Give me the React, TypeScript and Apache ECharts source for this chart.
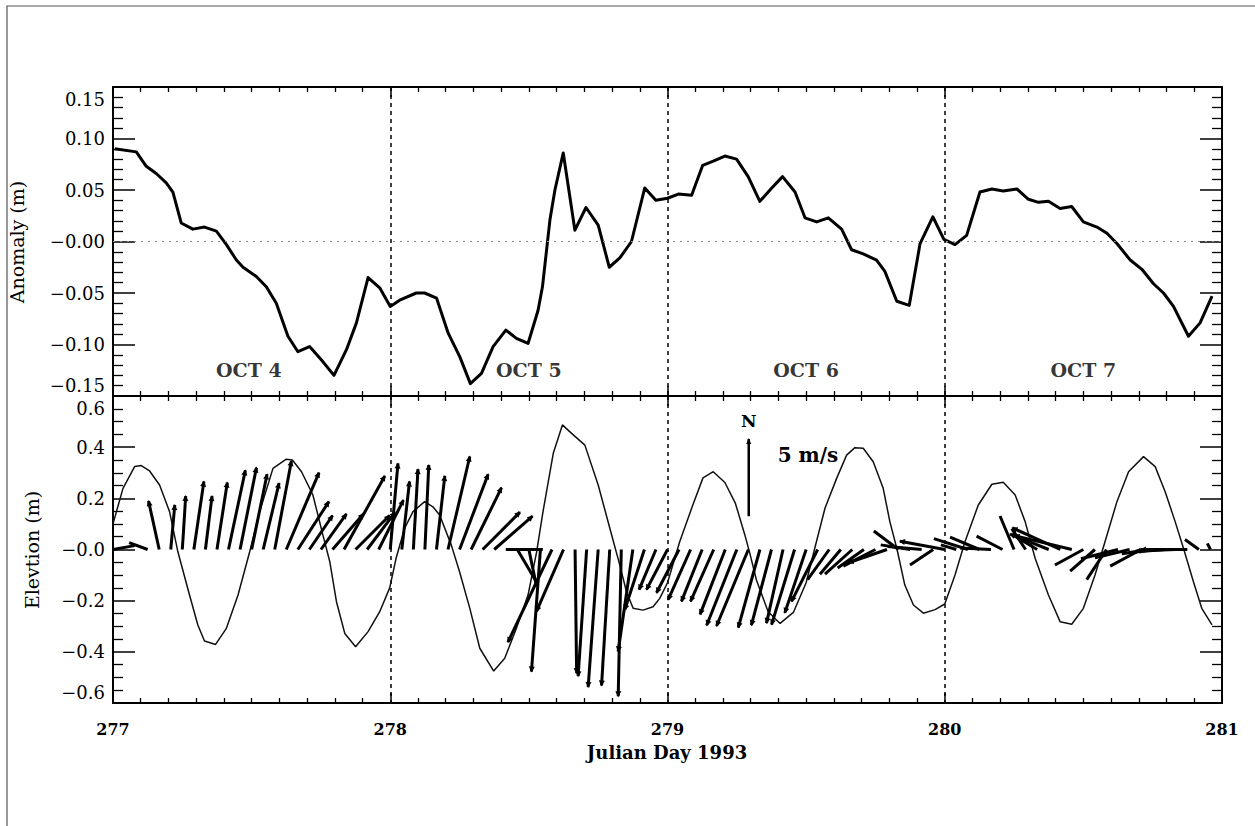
import React, { useEffect, useRef } from "react";
import * as echarts from "echarts";

// Sea level anomaly (m), top panel
const anomalyDay = [
  277.006, 277.084, 277.12, 277.156, 277.192, 277.216, 277.246, 277.288, 277.33, 277.373,
  277.409, 277.445, 277.469, 277.517, 277.553, 277.589, 277.631, 277.667, 277.709, 277.752,
  277.797, 277.842, 277.878, 277.92, 277.962, 278.0, 278.034, 278.094, 278.124, 278.167,
  278.209, 278.251, 278.289, 278.329, 278.371, 278.417, 278.455, 278.497, 278.533, 278.549,
  278.576, 278.594, 278.624, 278.666, 278.706, 278.75, 278.79, 278.828, 278.87, 278.918,
  278.958, 279.0, 279.039, 279.087, 279.127, 279.165, 279.207, 279.249, 279.291, 279.333,
  279.376, 279.415, 279.46, 279.496, 279.538, 279.58, 279.628, 279.664, 279.706, 279.754,
  279.784, 279.827, 279.872, 279.911, 279.957, 279.997, 280.037, 280.079, 280.127, 280.17,
  280.211, 280.26, 280.302, 280.338, 280.374, 280.416, 280.458, 280.5, 280.549, 280.585,
  280.621, 280.669, 280.711, 280.753, 280.789, 280.825, 280.879, 280.921, 280.964,
];
const anomalyValue = [
  0.09, 0.087, 0.073, 0.066, 0.057, 0.048, 0.018, 0.012, 0.014, 0.01,
  -0.003, -0.018, -0.025, -0.034, -0.044, -0.06, -0.092, -0.107, -0.102, -0.115,
  -0.13, -0.105, -0.079, -0.035, -0.045, -0.063, -0.057, -0.05, -0.05, -0.055,
  -0.089, -0.112, -0.138, -0.128, -0.102, -0.086, -0.094, -0.099, -0.067, -0.044,
  0.021, 0.05, 0.086, 0.011, 0.033, 0.016, -0.025, -0.016, 0.0, 0.052,
  0.04, 0.042, 0.046, 0.045, 0.074, 0.078, 0.083, 0.08, 0.063, 0.039,
  0.052, 0.063, 0.048, 0.023, 0.019, 0.023, 0.012, -0.008, -0.012, -0.018,
  -0.029, -0.058, -0.062, -0.002, 0.024, 0.002, -0.003, 0.006, 0.048, 0.051,
  0.049, 0.051, 0.041, 0.038, 0.039, 0.032, 0.034, 0.019, 0.014, 0.008,
  -0.002, -0.018, -0.027, -0.041, -0.05, -0.063, -0.092, -0.079, -0.053,
];

// Tidal elevation (m), bottom panel
const elevDay = [
  277.0, 277.036, 277.078, 277.102, 277.132, 277.168, 277.204, 277.234, 277.276, 277.306,
  277.33, 277.37, 277.409, 277.451, 277.493, 277.529, 277.577, 277.625, 277.647, 277.68,
  277.721, 277.757, 277.782, 277.806, 277.836, 277.875, 277.92, 277.962, 277.998, 278.022,
  278.052, 278.082, 278.124, 278.154, 278.178, 278.22, 278.25, 278.287, 278.323, 278.373,
  278.413, 278.455, 278.497, 278.528, 278.551, 278.588, 278.621, 278.654, 278.702, 278.75,
  278.792, 278.828, 278.852, 278.876, 278.912, 278.948, 278.972, 279.0, 279.044, 279.09,
  279.128, 279.165, 279.207, 279.245, 279.279, 279.297, 279.321, 279.363, 279.406, 279.454,
  279.5, 279.53, 279.568, 279.61, 279.646, 279.676, 279.706, 279.742, 279.778, 279.802,
  279.827, 279.856, 279.887, 279.923, 279.965, 280.0, 280.037, 280.073, 280.121, 280.17,
  280.211, 280.254, 280.29, 280.326, 280.374, 280.416, 280.458, 280.5, 280.542, 280.578,
  280.621, 280.663, 280.717, 280.759, 280.795, 280.831, 280.861, 280.897, 280.927, 280.964,
];
const elevValue = [
  0.1, 0.239, 0.324, 0.328, 0.307, 0.252, 0.148, -0.009, -0.178, -0.295,
  -0.358, -0.371, -0.308, -0.178, -0.009, 0.148, 0.317, 0.353, 0.35, 0.304,
  0.213, 0.057, -0.048, -0.204, -0.328, -0.38, -0.321, -0.243, -0.15, -0.03,
  0.083, 0.148, 0.187, 0.167, 0.135, 0.018, -0.087, -0.23, -0.386, -0.475,
  -0.425, -0.308, -0.178, -0.009, 0.148, 0.376, 0.487, 0.454, 0.408, 0.252,
  0.083, -0.061, -0.165, -0.23, -0.237, -0.224, -0.191, -0.13, 0.03, 0.17,
  0.28, 0.304, 0.262, 0.18, 0.057, -0.015, -0.12, -0.243, -0.289, -0.246,
  -0.13, 0.0, 0.161, 0.278, 0.369, 0.398, 0.396, 0.343, 0.239, 0.109,
  0.005, -0.139, -0.217, -0.249, -0.235, -0.213, -0.1, 0.03, 0.174, 0.255,
  0.263, 0.213, 0.109, -0.034, -0.178, -0.282, -0.292, -0.23, -0.1, 0.03,
  0.187, 0.304, 0.363, 0.324, 0.226, 0.109, 0.005, -0.126, -0.23, -0.295,
];

// Hourly wind components (m/s), east (u) and north (v), starting at day 277.0
const windStartDay = 277.0;
const windStepDay = 1 / 24;
const windU = [
  1.4, 0, 0, -1.2, -0.69, 0.26, 0.22, 0.65, 0.43, 0.67,
  1.09, 1.06, 1.0, 1.03, 1.08, 2.12, 2.01, 1.5, 1.65, 2.0,
  2.64, 2.2, 1.8, 1.6, 0.5, 0.5, 0.3, 0.25, 0.54, 1.41,
  1.85, 1.97, 2.41, 2.48, 2.4, 1.3, 0.5, -0.58, -2.85, -1.75,
  0.1, -0.55, -0.65, -0.53, -0.2, -0.95, -1.27, -1.09, -1.36, -1.46,
  -1.45, -1.34, -1.5, -1.63, -1.95, -2.06, -1.4, -1.3, -1.07, -1.49,
  -1.38, -1.69, -1.4, -1.35, -1.77, -1.7, -2.08, -2.5, -1.6, -1.9,
  -2.2, -1.5, -2.9, -1.0, -2.2, -1.9, -2.0, -1.68, -0.91, -0.9,
  -1.5, -2.5, -3.1, -3.7, -1.84, -1.6, -1.28, -2.4, -2.24, -2.0,
  -2.0, -2.3, -2.6, -3.0, -0.9, -0.2,
];
const windV = [
  0.25, 0, 0, 0.45, 3.14, 2.88, 3.46, 4.4, 3.46, 4.33,
  5.13, 5.3, 4.87, 4.29, 5.73, 4.98, 3.1, 2.2, 2.3, 2.3,
  4.76, 2.2, 2.4, 3.2, 5.57, 4.4, 5.2, 5.47, 4.76, 6.02,
  4.87, 4.0, 2.42, 2.16, 0, -2.2, -2.4, -7.9, -6.0, -4.0,
  -8.0, -8.2, -8.9, -8.8, -9.5, -6.6, -3.9, -2.6, -2.6, -2.8,
  -3.25, -3.36, -3.36, -4.2, -4.9, -4.95, -5.05, -4.9, -4.76, -4.86,
  -4.1, -3.36, -1.95, -1.6, -1.6, -1.2, -1.08, -0.86, 1.2, 0.3,
  0.2, -1.0, 0.54, 0.3, 0.7, 0.8, 0.1, 0.87, 2.17, 1.35,
  0.9, 1.0, 1.4, 0.9, -1.0, -1.4, -1.95, -0.6, -0.54, -1.08,
  -0.28, -0.2, -0.1, 0.0, 0.65, 0.4,
];

// Day-of-month captions in the top panel
const dayLabels = ["OCT 4", "OCT 5", "OCT 6", "OCT 7"];
const dayLabelDay = [277.49, 278.5, 279.5, 280.5];
const dayLabelLevel = -0.125;

// Wind scale bar: 5 m/s northward, drawn at this day / elevation
const scaleDay = 279.293;
const scaleBase = 0.13;
const scaleSpeed = 5;

// Elevation metres drawn per 1 m/s of wind (sets the stick length)
const METERS_PER_MS = 0.0604;

const SERIF = "'DejaVu Serif', 'Liberation Serif', serif";

function arrowHead(tx: number, ty: number, bx: number, by: number, h: number, w: number) {
  const len = Math.hypot(tx - bx, ty - by) || 1;
  const ux = (tx - bx) / len;
  const uy = (ty - by) / len;
  return {
    type: "polygon",
    shape: {
      points: [
        [tx + ux, ty + uy],
        [tx - ux * h - uy * w, ty - uy * h + ux * w],
        [tx - ux * h + uy * w, ty - uy * h - ux * w],
      ],
    },
    style: { fill: "#000" },
  };
}

function stickItem(_params: any, api: any) {
  const t = api.value(0);
  const u = api.value(1);
  const v = api.value(2);
  const base = api.coord([t, 0]);
  const s = api.size([0, METERS_PER_MS])[1];
  const tx = base[0] + u * s;
  const ty = base[1] - v * s;
  const children: any[] = [];
  const len = Math.hypot(tx - base[0], ty - base[1]);
  if (len < 0.5) return { type: "group", children };
  children.push({
    type: "line",
    shape: { x1: base[0], y1: base[1], x2: tx, y2: ty },
    style: { stroke: "#000", lineWidth: 3 },
  });
  if (len > 40) children.push(arrowHead(tx, ty, base[0], base[1], 5, 3));
  return { type: "group", children };
}

function scaleItem(_params: any, api: any) {
  const t = api.value(0);
  const y0 = api.value(1);
  const speed = api.value(2);
  const base = api.coord([t, y0]);
  const s = api.size([0, METERS_PER_MS])[1];
  const tx = base[0];
  const ty = base[1] - speed * s;
  return {
    type: "group",
    children: [
      {
        type: "line",
        shape: { x1: base[0], y1: base[1], x2: tx, y2: ty },
        style: { stroke: "#000", lineWidth: 2.5 },
      },
      arrowHead(tx, ty, base[0], base[1], 5, 2.5),
      {
        type: "text",
        style: {
          text: "N",
          x: tx,
          y: ty - 18,
          align: "center",
          verticalAlign: "middle",
          fill: "#000",
          fontFamily: SERIF,
          fontWeight: "bold",
          fontSize: 17,
        },
      },
      {
        type: "text",
        style: {
          text: speed + " m/s",
          x: tx + 29,
          y: ty + 16,
          align: "left",
          verticalAlign: "middle",
          fill: "#000",
          fontFamily: SERIF,
          fontWeight: "bold",
          fontSize: 20,
        },
      },
    ],
  };
}

function fmtSigned(v: number, digits: number) {
  const r = Number(v.toFixed(digits));
  if (r === 0) return "\u2212" + (0).toFixed(digits);
  return r < 0 ? "\u2212" + (-r).toFixed(digits) : r.toFixed(digits);
}

function yLabel(min: number, max: number, digits: number) {
  return (v: number) => {
    const s = fmtSigned(v, digits);
    if (Math.abs(v - max) < 1e-9) return "{hi|" + s + "}";
    if (Math.abs(v - min) < 1e-9) return "{lo|" + s + "}";
    return s;
  };
}

// End labels sit a little inside the panel, as in the original plot
const labelRich = {
  hi: { fontFamily: SERIF, fontSize: 18, lineHeight: 18, color: "#000", padding: [24, 0, 0, 0] },
  lo: { fontFamily: SERIF, fontSize: 18, lineHeight: 18, color: "#000", padding: [0, 0, 22, 0] },
};

function xAxisCfg(grid: number, position: string, labels: boolean, gridLines: boolean) {
  return {
    type: "value",
    gridIndex: grid,
    position,
    min: 277,
    max: 281,
    interval: 1,
    axisLine: { show: true, onZero: false, lineStyle: { color: "#000", width: 2 } },
    axisTick: { show: true, inside: true, length: 10, lineStyle: { color: "#000", width: 1.5 } },
    minorTick: { show: true, splitNumber: 10, length: 5, lineStyle: { color: "#000", width: 1.3 } },
    splitLine: {
      show: gridLines,
      lineStyle: { color: "#000", width: 1.5, type: [4, 4] },
    },
    axisLabel: {
      show: labels,
      margin: 18,
      color: "#000",
      fontFamily: SERIF,
      fontWeight: "bold",
      fontSize: 16,
      formatter: (v: number) => String(v),
    },
  };
}

function yAxisCfg(
  grid: number,
  position: string,
  min: number,
  max: number,
  interval: number,
  minorSplit: number,
  digits: number,
  labels: boolean
) {
  return {
    type: "value",
    gridIndex: grid,
    position,
    min,
    max,
    interval,
    axisLine: { show: true, onZero: false, lineStyle: { color: "#000", width: 2 } },
    axisTick: { show: true, inside: true, length: 22, lineStyle: { color: "#000", width: 1.5 } },
    minorTick: { show: true, splitNumber: minorSplit, length: 10, lineStyle: { color: "#000", width: 1.3 } },
    splitLine: { show: false },
    axisLabel: {
      show: labels,
      margin: 8,
      color: "#000",
      fontFamily: SERIF,
      fontSize: 18,
      formatter: yLabel(min, max, digits),
      rich: labelRich,
    },
  };
}

export default function App() {
  const ref = useRef<HTMLDivElement>(null);

  useEffect(() => {
    if (!ref.current) return;
    const chart = echarts.init(ref.current, null, { renderer: "svg" });

    const anomalyData = anomalyDay.map((d, i) => [d, anomalyValue[i]]);
    const elevData = elevDay.map((d, i) => [d, elevValue[i]]);
    const windData = windU.map((u, i) => [windStartDay + i * windStepDay, u, windV[i]]);
    const dayLabelData = dayLabels.map((name, i) => ({ name, value: [dayLabelDay[i], dayLabelLevel] }));

    chart.setOption({
      animation: false,
      backgroundColor: "#fff",
      grid: [
        { left: 113, top: 87, width: 1109, height: 309, outerBoundsMode: "none", containLabel: false },
        { left: 113, top: 396, width: 1109, height: 307, outerBoundsMode: "none", containLabel: false },
      ],
      xAxis: [
        xAxisCfg(0, "bottom", false, true),
        xAxisCfg(0, "top", false, false),
        xAxisCfg(1, "bottom", true, true),
        xAxisCfg(1, "top", false, false),
      ],
      yAxis: [
        yAxisCfg(0, "left", -0.15, 0.15, 0.05, 5, 2, true),
        yAxisCfg(0, "right", -0.15, 0.15, 0.05, 5, 2, false),
        yAxisCfg(1, "left", -0.6, 0.6, 0.2, 4, 1, true),
        yAxisCfg(1, "right", -0.6, 0.6, 0.2, 4, 1, false),
      ],
      graphic: [
        {
          type: "rect",
          shape: { x: 7, y: 6, width: 1300, height: 900 },
          style: { fill: "none", stroke: "#555", lineWidth: 1.2 },
          silent: true,
        },
        {
          type: "text",
          x: 17,
          y: 242,
          rotation: Math.PI / 2,
          style: {
            text: "Anomaly (m)",
            align: "center",
            verticalAlign: "middle",
            fill: "#000",
            fontFamily: SERIF,
            fontSize: 19,
          },
        },
        {
          type: "text",
          x: 32,
          y: 550,
          rotation: Math.PI / 2,
          style: {
            text: "Elevtion (m)",
            align: "center",
            verticalAlign: "middle",
            fill: "#000",
            fontFamily: SERIF,
            fontSize: 19,
          },
        },
        {
          type: "text",
          x: 667,
          y: 752,
          style: {
            text: "Julian Day 1993",
            align: "center",
            verticalAlign: "middle",
            fill: "#000",
            fontFamily: SERIF,
            fontWeight: "bold",
            fontSize: 18,
          },
        },
      ],
      series: [
        {
          name: "Anomaly",
          type: "line",
          xAxisIndex: 0,
          yAxisIndex: 0,
          data: anomalyData,
          symbol: "none",
          lineStyle: { color: "#000", width: 3, join: "round" },
          markLine: {
            silent: true,
            symbol: ["none", "none"],
            label: { show: false },
            lineStyle: { color: "#888", width: 1, type: [2, 5] },
            data: [{ yAxis: 0 }],
          },
          z: 3,
        },
        {
          name: "Day",
          type: "scatter",
          xAxisIndex: 0,
          yAxisIndex: 0,
          data: dayLabelData,
          symbolSize: 0,
          label: {
            show: true,
            position: "inside",
            formatter: "{b}",
            color: "#000",
            fontFamily: SERIF,
            fontWeight: "bold",
            fontSize: 19,
          },
          silent: true,
        },
        {
          name: "Elevation",
          type: "line",
          xAxisIndex: 2,
          yAxisIndex: 2,
          data: elevData,
          symbol: "none",
          lineStyle: { color: "#111", width: 1.5 },
          z: 3,
        },
        {
          name: "Wind",
          type: "custom",
          xAxisIndex: 2,
          yAxisIndex: 2,
          data: windData,
          encode: { x: 0, y: 2 },
          renderItem: stickItem,
          silent: true,
          z: 4,
        },
        {
          name: "Scale",
          type: "custom",
          xAxisIndex: 2,
          yAxisIndex: 2,
          data: [[scaleDay, scaleBase, scaleSpeed]],
          encode: { x: 0, y: 1 },
          renderItem: scaleItem,
          silent: true,
          z: 4,
        },
      ],
    });

    return () => chart.dispose();
  }, []);

  return (
    <div
      ref={ref}
      style={{ position: "absolute", left: 0, top: 0, width: 1255, height: 826, background: "#fff" }}
    />
  );
}
